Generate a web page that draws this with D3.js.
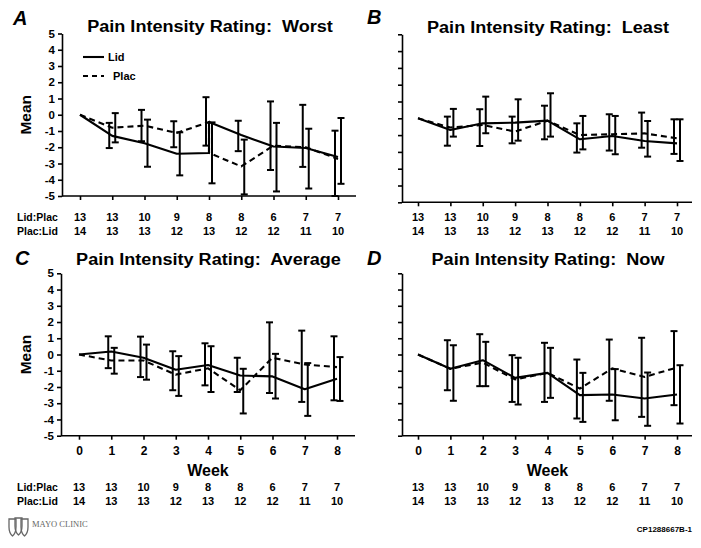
<!DOCTYPE html>
<html><head><meta charset="utf-8">
<script src="https://cdn.jsdelivr.net/npm/d3@7"></script>
<style>
body{margin:0;background:#fff;}
svg{display:block;background:#fff;}
text{font-family:"Liberation Sans",Arial,sans-serif;font-weight:bold;fill:#000;white-space:pre;}
</style>
</head><body><svg id="chart" width="701" height="548"></svg>
<script>
// ---------------- data ----------------
const weeks = [0,1,2,3,4,5,6,7,8];
const weekLabels = ["0","1","2","3","4","5","6","7","8"];
const yTickValues = [5,4,3,2,1,0,-1,-2,-3,-4,-5];
const yTickLabels = ["5","4","3","2","1","0","-1","-2","-3","-4","-5"];
const lidPlacCounts = [13,13,10,9,8,8,6,7,7];
const placLidCounts = [14,13,13,12,13,12,12,11,10];
const countRowLabels = ["Lid:Plac","Plac:Lid"];
const panelLetters = ["A","B","C","D"];
const panelTitles = ["Pain Intensity Rating:  Worst","Pain Intensity Rating:  Least",
                     "Pain Intensity Rating:  Average","Pain Intensity Rating:  Now"];
const seriesNames = ["Lid","Plac"];

// means as drawn by the lines; a pair [in, out] marks a jump of the drawn line at that week
const worstLid  = [0,-1.3,-1.75,-2.4,[-2.35,-0.45],-1.25,-1.95,-2.05,-2.6];
const worstPlac = [0,-0.8,-0.67,-1.12,[-0.45,-2.35],-3.18,-1.9,-2.0,-2.72];
const worstLidHi  = [null,-0.5,0.3,-0.4,1.08,-0.37,0.82,0.61,-0.98];
const worstLidLo  = [null,-2.05,-1.63,-2.0,-1.9,-2.24,-3.4,-3.21,-5.0];
const worstPlacHi = [null,0.1,-0.3,-1.08,-0.47,-1.53,-0.5,-0.86,-0.2];
const worstPlacLo = [null,-1.7,-3.2,-3.73,-4.22,-4.9,-4.72,-4.54,-4.25];

const leastLid  = [0,-0.7,-0.3,-0.26,-0.14,-1.25,-1.05,-1.35,-1.49];
const leastPlac = [0,-0.55,-0.4,-0.79,-0.14,-1.0,-0.95,-0.9,-1.19];
const leastLidHi  = [null,0.1,0.54,0.1,0.75,-0.3,0.24,0.34,-0.06];
const leastLidLo  = [null,-1.63,-1.65,-1.49,-1.25,-2.04,-1.92,-1.75,-2.12];
const leastPlacHi = [null,0.56,1.29,1.13,1.49,0.14,0.14,-0.16,-0.06];
const leastPlacLo = [null,-1.09,-0.89,-1.33,-1.09,-1.85,-2.14,-2.28,-2.54];

const avgLid  = [0,0.18,-0.2,-0.94,-0.65,-1.29,-1.35,-2.14,-1.49];
const avgPlac = [0,-0.37,-0.37,-1.24,-0.85,-2.2,-0.2,-0.61,-0.78];
const avgLidHi  = [null,1.12,1.1,0.2,0.69,-0.2,1.98,1.47,1.12];
const avgLidLo  = [null,-0.84,-1.39,-2.2,-1.9,-2.31,-2.37,-2.92,-2.82];
const avgPlacHi = [null,0.41,0.61,-0.1,0.51,-0.88,0.04,-0.53,-0.16];
const avgPlacLo = [null,-1.18,-1.55,-2.55,-2.31,-3.63,-2.71,-3.78,-2.86];

const nowLid  = [0,-0.88,-0.35,-1.44,-1.13,-2.5,-2.46,-2.71,-2.46];
const nowPlac = [0,-0.88,-0.5,-1.54,-1.13,-2.1,-0.86,-1.38,-0.8];
const nowLidHi  = [null,0.88,1.25,-0.04,0.72,-0.31,0.92,1.03,1.44];
const nowLidLo  = [null,-2.2,-1.95,-2.92,-2.92,-3.94,-2.85,-3.84,-3.12];
const nowPlacHi = [null,0.57,0.78,-0.2,0.41,-1.13,-0.9,-1.11,-0.66];
const nowPlacLo = [null,-2.85,-1.95,-3.08,-2.67,-4.15,-4.05,-4.39,-4.25];

const footnote = "CP1288667B-1";
const logoText = "MAYO CLINIC";

// ---------------- layout ----------------
const panels = [
  {lid:worstLid, plac:worstPlac, lidHi:worstLidHi, lidLo:worstLidLo, placHi:worstPlacHi, placLo:worstPlacLo,
   x0:80, x8:338, yTop:33.5, yBot:196, axL:62, axR:356, left:true, weekAxis:false,
   letter:[13,25], title:[210,32], counts:[221,235], legend:true},
  {lid:leastLid, plac:leastPlac, lidHi:leastLidHi, lidLo:leastLidLo, placHi:leastPlacHi, placLo:leastPlacLo,
   x0:418, x8:677, yTop:34.3, yBot:202.3, axL:402, axR:692, left:false, weekAxis:false,
   letter:[367,24], title:[548,33], counts:[221,235]},
  {lid:avgLid, plac:avgPlac, lidHi:avgLidHi, lidLo:avgLidLo, placHi:avgPlacHi, placLo:avgPlacLo,
   x0:79, x8:337, yTop:273.3, yBot:435.7, axL:61, axR:355, left:true, weekAxis:true,
   letter:[15,265], title:[208.5,265], counts:[491,505]},
  {lid:nowLid, plac:nowPlac, lidHi:nowLidHi, lidLo:nowLidLo, placHi:nowPlacHi, placLo:nowPlacLo,
   x0:418, x8:677, yTop:273.3, yBot:435.7, axL:402, axR:692, left:false, weekAxis:true,
   letter:[367,265], title:[548,265], counts:[491,505]}
];

const svg = d3.select("#chart");

function flatten(vals){
  const pts = [];
  vals.forEach((v,i) => {
    if (Array.isArray(v)) { pts.push([weeks[i], v[0]]); pts.push([weeks[i], v[1]]); }
    else pts.push([weeks[i], v]);
  });
  return pts;
}

panels.forEach((p, pi) => {
  const x = d3.scaleLinear().domain([0,8]).range([p.x0, p.x8]);
  const y = d3.scaleLinear().domain([-5,5]).range([p.yBot, p.yTop]);
  const g = svg.append("g");

  // y axis
  const ya = g.append("g").attr("transform", `translate(${p.axL},0)`)
    .call(d3.axisLeft(y).tickValues(yTickValues).tickSize(4).tickSizeOuter(0).tickPadding(3)
      .tickFormat((d,i) => p.left ? yTickLabels[i] : ""));
  ya.attr("font-family", null).attr("font-size", null);
  ya.selectAll("text").style("font-size","11.5px");
  ya.selectAll("line, path").attr("stroke","#000").attr("stroke-width",1.6);

  // x axis
  const xa = g.append("g").attr("transform", `translate(0,${p.yBot})`)
    .call(d3.axisBottom(x).tickValues(weeks).tickSize(4).tickSizeOuter(0).tickPadding(7)
      .tickFormat((d,i) => p.weekAxis ? weekLabels[i] : ""));
  xa.attr("font-family", null).attr("font-size", null);
  xa.select(".domain").attr("d", `M${p.axL},0H${p.axR}`);
  xa.selectAll("text").style("font-size","12px");
  xa.selectAll("line, path").attr("stroke","#000").attr("stroke-width",1.6);

  if (p.weekAxis) {
    g.append("text").attr("x", x(4)).attr("y", p.yBot + 40).attr("text-anchor","middle")
      .style("font-size","16px").text("Week");
  }
  if (p.left) {
    g.append("text").attr("transform", `translate(31,${y(0)}) rotate(-90)`)
      .attr("text-anchor","middle").style("font-size","15.5px").text("Mean");
  }

  // lines
  const line = d3.line().x(d => x(d[0])).y(d => y(d[1]));
  g.append("path").datum(flatten(p.lid)).attr("d", line)
    .attr("fill","none").attr("stroke","#000").attr("stroke-width",2.1).attr("stroke-linejoin","round");
  g.append("path").datum(flatten(p.plac)).attr("d", line)
    .attr("fill","none").attr("stroke","#000").attr("stroke-width",2.1).attr("stroke-dasharray","6,4");

  // error bars
  const bars = [];
  weeks.forEach((w,i) => {
    if (p.lidHi[i] != null) bars.push({w, off:-3, hi:p.lidHi[i], lo:p.lidLo[i]});
    if (p.placHi[i] != null) bars.push({w, off:3, hi:p.placHi[i], lo:p.placLo[i]});
  });
  const eb = g.append("g").attr("stroke","#000").attr("stroke-width",2);
  bars.forEach(b => {
    const cx = x(b.w) + b.off;
    eb.append("line").attr("x1",cx).attr("x2",cx).attr("y1",y(b.hi)).attr("y2",y(b.lo));
    eb.append("line").attr("x1",cx-3.5).attr("x2",cx+3.5).attr("y1",y(b.hi)).attr("y2",y(b.hi));
    eb.append("line").attr("x1",cx-3.5).attr("x2",cx+3.5).attr("y1",y(b.lo)).attr("y2",y(b.lo));
  });

  // titles and letters
  g.append("text").attr("x", p.letter[0]).attr("y", p.letter[1])
    .style("font-size","20px").style("font-style","italic").text(panelLetters[pi]);
  g.append("text").attr("transform", `translate(${p.title[0]},${p.title[1]}) scale(1.13,1)`)
    .attr("xml:space","preserve")
    .attr("text-anchor","middle").style("font-size","16px").text(panelTitles[pi]);

  // counts
  [lidPlacCounts, placLidCounts].forEach((arr, ri) => {
    if (p.left) {
      g.append("text").attr("x", 17).attr("y", p.counts[ri]).style("font-size","10.5px").text(countRowLabels[ri]);
    }
    g.selectAll(null).data(arr).enter().append("text")
      .attr("x", (d,i) => x(weeks[i])).attr("y", p.counts[ri])
      .attr("text-anchor","middle").style("font-size","11px").text(d => d);
  });

  // legend
  if (p.legend) {
    const lg = g.append("g");
    seriesNames.forEach((s, si) => {
      const ly = 57 + si*19;
      lg.append("line").attr("x1",83).attr("x2",104).attr("y1",ly).attr("y2",ly)
        .attr("stroke","#000").attr("stroke-width",2.1)
        .attr("stroke-dasharray", si === 1 ? "5,4" : null);
      lg.append("text").attr("x", si === 0 ? 108 : 113).attr("y", ly + 4)
        .style("font-size","11px").text(s);
    });
  }
});

// footnote
svg.append("text").attr("x", 692).attr("y", 532).attr("text-anchor","end")
  .style("font-size","8px").text(footnote);

// logo
const logo = svg.append("g").attr("transform","translate(9,518)")
  .attr("fill","none").attr("stroke","#666").attr("stroke-width",1.3);
[[0,1],[6,0],[12,1]].forEach(([dx,dy]) => {
  logo.append("path").attr("d", `M${dx},${dy} h7 v8 q0,6 -3.5,9 q-3.5,-3 -3.5,-9 z`);
});
svg.append("text").attr("x", 32).attr("y", 527)
  .style("font-family","'Liberation Serif','Times New Roman',serif").style("font-weight","normal")
  .style("font-size","8.5px").style("fill","#666").text(logoText);
</script>
</body></html>
